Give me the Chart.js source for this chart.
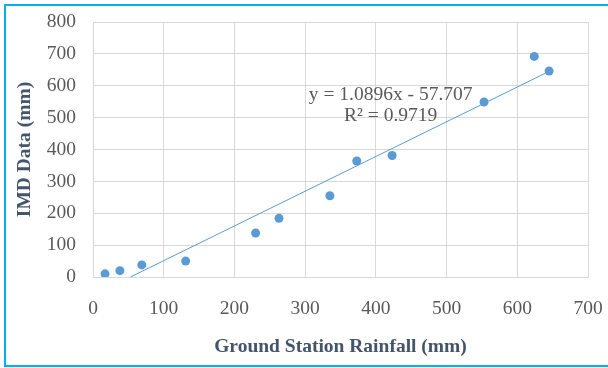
<!DOCTYPE html>
<html>
<head>
<meta charset="utf-8">
<script src="https://cdn.jsdelivr.net/npm/chart.js@4"></script>
<style>
  body { margin: 0; background: #fff; overflow: hidden; }
  #wrap { position: relative; width: 608px; height: 368px; overflow: hidden; }
  canvas { display: block; }
  .kant { position: absolute; background: #00b0f0; pointer-events: none; }
</style>
</head>
<body>
<div id="wrap">
  <canvas id="chart" width="608" height="368"></canvas>
  <div class="kant" style="left:4px; top:4px; width:604px; height:2px;"></div>
  <div class="kant" style="left:4px; top:4px; width:2px; height:363px;"></div>
  <div class="kant" style="left:4px; top:365px; width:604px; height:2px;"></div>
</div>
<script>
// Ground station rainfall vs IMD data (mm)
var groundRain = [17, 38, 69, 131, 230, 263, 335, 373, 423, 553, 624, 645];
var imdData = [10, 20, 38, 50, 138, 184, 255, 364, 381, 549, 692, 646];

// trendline end points as seen on the picture
var trendX = [53, 645];
var trendY = [0, 645];

var eqLines = ["y = 1.0896x - 57.707", "R\u00b2 = 0.9719"];

var punkter = groundRain.map(function (x, i) { return { x: x, y: imdData[i] }; });
var linje = trendX.map(function (x, i) { return { x: x, y: trendY[i] }; });

var serif = "'Liberation Serif', 'Times New Roman', serif";

// skriver likningen til trendlinja
var eqPlugin = {
  id: "eqText",
  afterDatasetsDraw: function (chart) {
    var ctx = chart.ctx;
    var xs = chart.scales.x, ys = chart.scales.y;
    var cx = xs.getPixelForValue(421);
    var cy = ys.getPixelForValue(571);
    ctx.save();
    ctx.font = "19.5px " + serif;
    ctx.fillStyle = "#595959";
    ctx.textAlign = "center";
    ctx.textBaseline = "middle";
    ctx.fillText(eqLines[0], cx, cy);
    ctx.fillText(eqLines[1], cx, cy + 21);
    ctx.restore();
  }
};

new Chart("chart", {
  type: "scatter",
  data: {
    datasets: [{
      data: punkter,
      backgroundColor: "#5b9bd5",
      borderWidth: 0,
      pointRadius: 4.5,
      pointHoverRadius: 4.5
    }, {
      data: linje,
      showLine: true,
      borderColor: "#5b9bd5",
      borderWidth: 1,
      pointRadius: 0
    }]
  },
  options: {
    responsive: false,
    animation: false,
    events: [],
    layout: { padding: { top: 22, right: 20, left: 0, bottom: 0 } },
    plugins: { legend: { display: false }, tooltip: { enabled: false } },
    scales: {
      x: {
        type: "linear",
        min: 0, max: 700,
        ticks: { stepSize: 100, padding: 20, color: "#595959", font: { family: serif, size: 19.5 } },
        grid: { color: "#d9d9d9", drawTicks: false },
        border: { color: "#d9d9d9" },
        title: {
          display: true,
          text: "Ground Station Rainfall (mm)",
          color: "#44546a",
          font: { family: serif, size: 19.5, weight: "bold" },
          padding: { top: 0, bottom: 9 }
        },
        afterFit: function (s) {
          s.height = 91;
          s.paddingLeft = 0;
          s.paddingRight = 0;
        }
      },
      y: {
        min: 0, max: 800,
        ticks: { stepSize: 100, padding: 17, color: "#595959", font: { family: serif, size: 19.5 } },
        grid: { color: "#d9d9d9", drawTicks: false },
        border: { color: "#d9d9d9" },
        title: {
          display: true,
          text: "IMD Data (mm)",
          color: "#44546a",
          font: { family: serif, size: 19.5, weight: "bold" },
          padding: { top: 13, bottom: 0 }
        },
        afterFit: function (s) {
          s.width = 93;
          s.paddingTop = 0;
          s.paddingBottom = 0;
        }
      }
    }
  },
  plugins: [eqPlugin]
});
</script>
</body>
</html>
